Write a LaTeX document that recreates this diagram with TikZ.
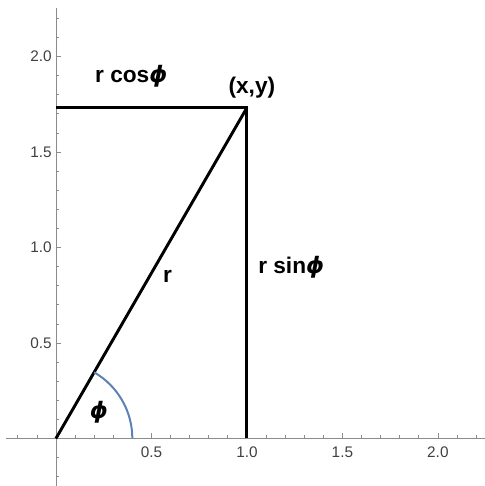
\documentclass[tikz,border=0pt]{standalone}
\usepackage{fontspec}
\setmainfont{Liberation Sans}
\newfontfamily\phifont{DejaVu Sans}
\usetikzlibrary{positioning, calc}
\definecolor{axisgray}{HTML}{8C8C8C}
\definecolor{ticktext}{HTML}{404040}
\definecolor{arcblue}{HTML}{5E81B5}
\newcommand{\phisym}{{\phifont\bfseries\itshape ϕ}}

\begin{document}
\begin{tikzpicture}[x=143.25pt, y=143.25pt,
    seg/.style={line width=2.2pt, black},
    axisline/.style={axisgray, line width=0.6pt},
    lbl/.style={font=\fontsize{17}{19}\selectfont\bfseries, inner sep=0pt},
    ptlbl/.style={font=\fontsize{17}{19}\selectfont\bfseries, inner sep=0pt},
    ticklbl/.style={font=\fontsize{11.5}{13}\selectfont, text=ticktext, inner sep=0pt}]
  \useasboundingbox (-0.293,-0.249) rectangle (2.246,2.296);
  % axes and ticks
  \draw[axisline] (-0.262,0) -- (2.246,0);
  \draw[axisline] (0,-0.249) -- (0,2.255);
  \foreach \i in {-2,...,22} {
    \draw[axisline, line width=0.5pt] (\i/10,0) -- ++(0,2.25pt);
    \draw[axisline, line width=0.5pt] (0,\i/10) -- ++(2.25pt,0);
  }
  \foreach \s [count=\k] in {0.5,1.0,1.5,2.0} {
    \draw[axisline, line width=0.5pt] (\k/2,0) -- ++(0,3.75pt);
    \draw[axisline, line width=0.5pt] (0,\k/2) -- ++(3.75pt,0);
    \node[ticklbl, anchor=north] (xt\k) at ($(\k/2,0)+(0,-6.4pt)$) {\s};
    \node[ticklbl, anchor=east] (yt\k) at ($(0,\k/2)+(-3pt,0)$) {\s};
  }
  % triangle
  \coordinate (O) at (0,0);
  \coordinate (P) at (1,1.732);
  \coordinate (F) at (1,0);
  \coordinate (Y) at (0,1.732);
  \draw[seg] (Y) -- (P) -- (F);
  \draw[seg] (O) -- (P);
  \draw[arcblue, line width=1.5pt] (0.4,0) arc[start angle=0, end angle=60, radius=0.4];
  % labels
  \node[lbl, anchor=base west] (rcos) at (0.204,1.865) {r cos\phisym};
  \node[ptlbl, anchor=base] (xy) at (1.026,1.804) {(x,y)};
  \node[lbl, anchor=base] (r) at (0.584,0.819) {r};
  \node[lbl, anchor=base west] (rsin) at (1.058,0.866) {r sin\phisym};
  \node[lbl] (phi) at (0.225,0.139) {\phisym};
\end{tikzpicture}
\end{document}
